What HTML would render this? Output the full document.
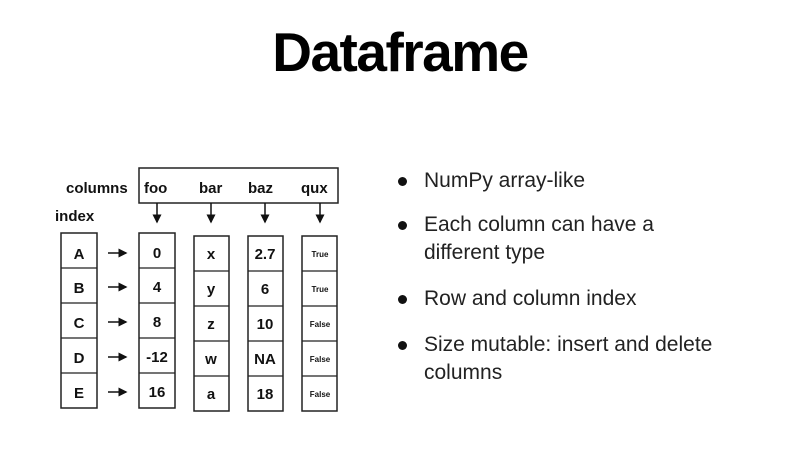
<!DOCTYPE html>
<html><head><style>
body{margin:0;width:786px;height:460px;background:#fff;overflow:hidden;font-family:"Liberation Sans",sans-serif;position:relative}
.t{position:absolute;left:0;width:800px;text-align:center;top:20px;font-size:55px;font-weight:bold;letter-spacing:-1.5px}
.b{position:absolute;left:398px;font-size:21px;color:#222}
.b span{position:absolute;left:26px;white-space:nowrap;line-height:28px}
.dot{position:absolute;width:9px;height:9px;border-radius:50%;background:#111;top:10px}
</style></head><body>
<div class="t">Dataframe</div>
<svg width="786" height="460" style="position:absolute;left:0;top:0" font-family="Liberation Sans" font-weight="bold">
<defs><marker id="a" markerWidth="6" markerHeight="6" refX="5" refY="3" orient="auto"><path d="M0,0L6,3L0,6z" fill="#111"/></marker></defs>
<g fill="#fff" stroke="#222" stroke-width="1.5">
<rect x="139" y="168" width="199" height="35"/>
<rect x="61" y="233" width="36" height="175"/>
<rect x="139" y="233" width="36" height="175"/>
<rect x="194" y="236" width="35" height="175"/>
<rect x="248" y="236" width="35" height="175"/>
<rect x="302" y="236" width="35" height="175"/>
</g>
<g stroke="#222" stroke-width="1.2">
<line x1="61" y1="268" x2="97" y2="268"/><line x1="61" y1="303" x2="97" y2="303"/><line x1="61" y1="338" x2="97" y2="338"/><line x1="61" y1="373" x2="97" y2="373"/>
<line x1="139" y1="268" x2="175" y2="268"/><line x1="139" y1="303" x2="175" y2="303"/><line x1="139" y1="338" x2="175" y2="338"/><line x1="139" y1="373" x2="175" y2="373"/>
<line x1="194" y1="271" x2="229" y2="271"/><line x1="194" y1="306" x2="229" y2="306"/><line x1="194" y1="341" x2="229" y2="341"/><line x1="194" y1="376" x2="229" y2="376"/>
<line x1="248" y1="271" x2="283" y2="271"/><line x1="248" y1="306" x2="283" y2="306"/><line x1="248" y1="341" x2="283" y2="341"/><line x1="248" y1="376" x2="283" y2="376"/>
<line x1="302" y1="271" x2="337" y2="271"/><line x1="302" y1="306" x2="337" y2="306"/><line x1="302" y1="341" x2="337" y2="341"/><line x1="302" y1="376" x2="337" y2="376"/>
</g>
<g stroke="#111" stroke-width="1.5" marker-end="url(#a)">
<line x1="157" y1="203" x2="157" y2="222"/><line x1="211" y1="203" x2="211" y2="222"/><line x1="265" y1="203" x2="265" y2="222"/><line x1="320" y1="203" x2="320" y2="222"/>
<line x1="108" y1="253" x2="126" y2="253"/><line x1="108" y1="287" x2="126" y2="287"/><line x1="108" y1="322" x2="126" y2="322"/><line x1="108" y1="357" x2="126" y2="357"/><line x1="108" y1="392" x2="126" y2="392"/>
</g>
<g font-size="15" fill="#111">
<text x="66" y="193">columns</text><text x="55" y="221">index</text>
<text x="144" y="193">foo</text><text x="199" y="193">bar</text><text x="248" y="193">baz</text><text x="301" y="193">qux</text>
</g>
<g font-size="15" fill="#111" text-anchor="middle">
<text x="79" y="259">A</text><text x="79" y="293">B</text><text x="79" y="328">C</text><text x="79" y="363">D</text><text x="79" y="398">E</text>
<text x="157" y="258">0</text><text x="157" y="292">4</text><text x="157" y="327">8</text><text x="157" y="362">-12</text><text x="157" y="397">16</text>
<text x="211" y="259">x</text><text x="211" y="294">y</text><text x="211" y="329">z</text><text x="211" y="364">w</text><text x="211" y="399">a</text>
<text x="265" y="259">2.7</text><text x="265" y="294">6</text><text x="265" y="329">10</text><text x="265" y="364">NA</text><text x="265" y="399">18</text>
</g>
<g font-size="8" fill="#111" text-anchor="middle">
<text x="320" y="257">True</text><text x="320" y="292">True</text><text x="320" y="327">False</text><text x="320" y="362">False</text><text x="320" y="397">False</text>
</g>
</svg>
<div class="b" style="top:167px"><div class="dot"></div><span>NumPy array-like</span></div>
<div class="b" style="top:211px"><div class="dot"></div><span>Each column can have a<br>different type</span></div>
<div class="b" style="top:285px"><div class="dot"></div><span>Row and column index</span></div>
<div class="b" style="top:331px"><div class="dot"></div><span>Size mutable: insert and delete<br>columns</span></div>
</body></html>
